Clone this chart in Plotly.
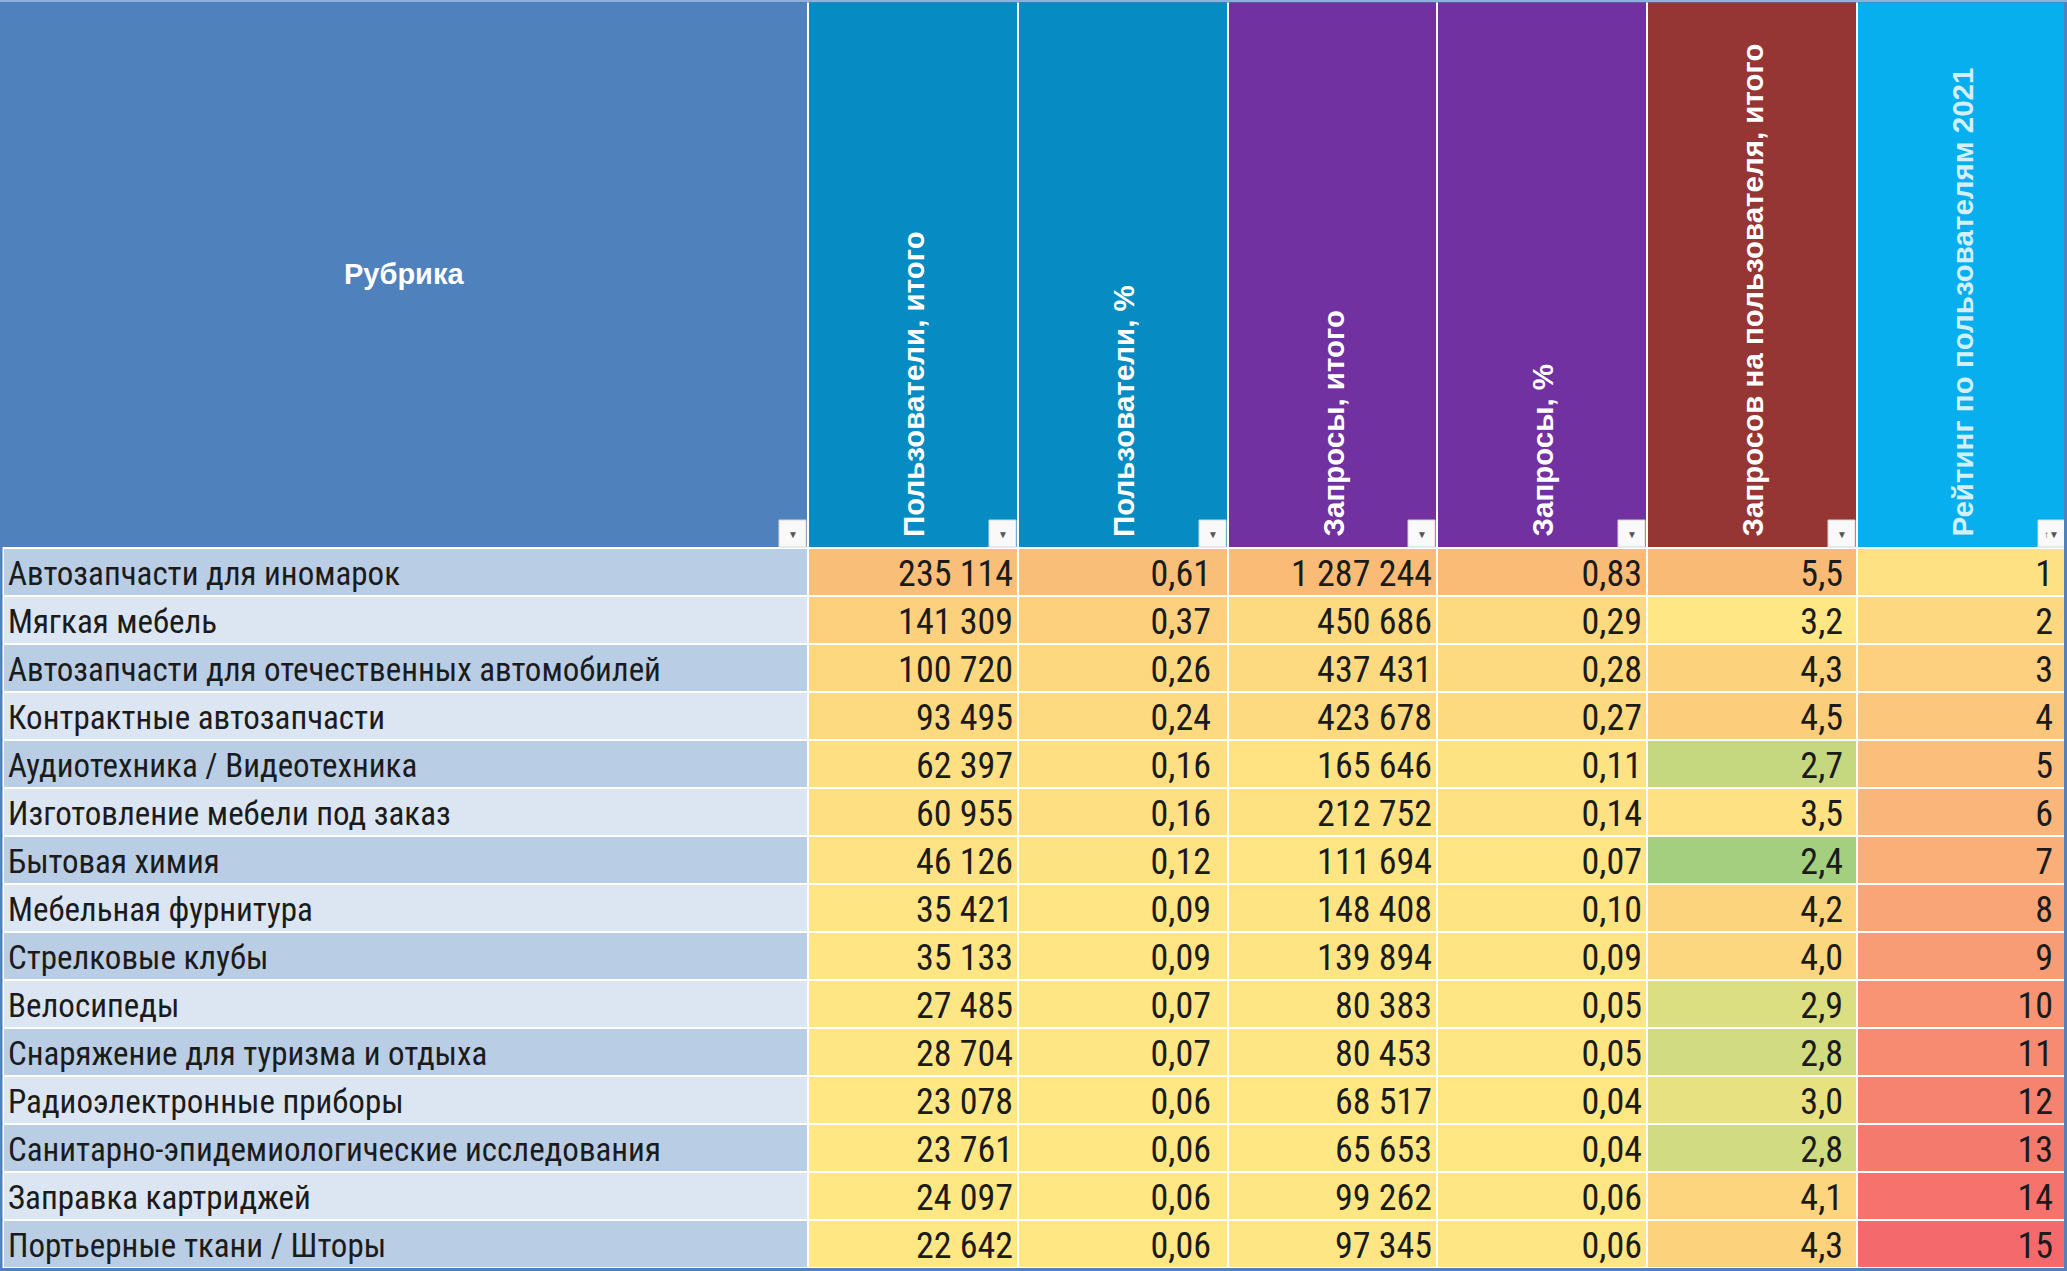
import plotly.graph_objects as go

# ---------------- data ----------------
headers = [
    "Рубрика",
    "Пользователи, итого",
    "Пользователи, %",
    "Запросы, итого",
    "Запросы, %",
    "Запросов на пользователя, итого",
    "Рейтинг по пользователям 2021",
]
rubrics = [
    "Автозапчасти для иномарок",
    "Мягкая мебель",
    "Автозапчасти для отечественных автомобилей",
    "Контрактные автозапчасти",
    "Аудиотехника / Видеотехника",
    "Изготовление мебели под заказ",
    "Бытовая химия",
    "Мебельная фурнитура",
    "Стрелковые клубы",
    "Велосипеды",
    "Снаряжение для туризма и отдыха",
    "Радиоэлектронные приборы",
    "Санитарно-эпидемиологические исследования",
    "Заправка картриджей",
    "Портьерные ткани / Шторы",
]
users_total = [235114, 141309, 100720, 93495, 62397, 60955, 46126, 35421,
               35133, 27485, 28704, 23078, 23761, 24097, 22642]
users_pct = [0.61, 0.37, 0.26, 0.24, 0.16, 0.16, 0.12, 0.09,
             0.09, 0.07, 0.07, 0.06, 0.06, 0.06, 0.06]
req_total = [1287244, 450686, 437431, 423678, 165646, 212752, 111694, 148408,
             139894, 80383, 80453, 68517, 65653, 99262, 97345]
req_pct = [0.83, 0.29, 0.28, 0.27, 0.11, 0.14, 0.07, 0.10,
           0.09, 0.05, 0.05, 0.04, 0.04, 0.06, 0.06]
req_per_user = [5.5, 3.2, 4.3, 4.5, 2.7, 3.5, 2.4, 4.2,
                4.0, 2.9, 2.8, 3.0, 2.8, 4.1, 4.3]
rating = [1, 2, 3, 4, 5, 6, 7, 8, 9, 10, 11, 12, 13, 14, 15]

# ---------------- layout / style ----------------
W, H = 2067, 1271
col_edges = [0, 808, 1018, 1228, 1437, 1647, 1857, 2067]
header_bottom = 548
row_h = 48
n = len(rubrics)
row_edges = [header_bottom + i * row_h for i in range(n + 1)]
row_mid = [(row_edges[i] + row_edges[i + 1]) / 2 for i in range(n)]
text_dy = 5

NARROW = "Liberation Sans Narrow, Arial Narrow, Roboto Condensed, DejaVu Sans Condensed, Liberation Sans, sans-serif"
BOLD = "Liberation Sans, Arial, sans-serif"
TXT = "#1B1B1B"

header_colors = ["#4F81BD", "#068CC2", "#068CC2", "#7131A1", "#7131A1", "#963634", "#07AFEE"]
header_text_colors = ["#FFFFFF"] * 6 + ["#D2F0FB"]

yellow = "#FFE784"
scales = [
    [[0, yellow], [1, "#F9BE77"]],
    [[0, yellow], [1, "#F9BE77"]],
    [[0, yellow], [1, "#F9BB76"]],
    [[0, yellow], [1, "#F9BB76"]],
    [[0, "#A3CF7E"], [0.26, "#FFE784"], [1, "#F9BA76"]],
    [[0, "#FEE182"], [1, "#F4696B"]],
]
pads = [5, 17, 5, 5, 14, 14]


def fmt_int(v):
    return f"{v:,}".replace(",", " ")


def fmt_dec(v, d):
    return f"{v:.{d}f}".replace(".", ",")


columns = [
    (users_total, [fmt_int(v) for v in users_total]),
    (users_pct, [fmt_dec(v, 2) for v in users_pct]),
    (req_total, [fmt_int(v) for v in req_total]),
    (req_pct, [fmt_dec(v, 2) for v in req_pct]),
    (req_per_user, [fmt_dec(v, 1) for v in req_per_user]),
    (rating, [str(v) for v in rating]),
]

fig = go.Figure()

# Рубрика column banding
fig.add_trace(go.Heatmap(
    x=[col_edges[0] + 3, col_edges[1]], y=row_edges,
    z=[[i % 2] for i in range(n)],
    colorscale=[[0, "#B9CDE5"], [1, "#DCE6F2"]], zmin=0, zmax=1,
    showscale=False, xgap=2, ygap=2, hoverinfo="skip",
))
fig.add_trace(go.Scatter(
    x=[col_edges[0] + 8] * n, y=[m + text_dy for m in row_mid], mode="text", text=rubrics,
    textposition="middle right",
    textfont=dict(family=NARROW, size=33, color=TXT),
    hoverinfo="skip", showlegend=False,
))

for j, (vals, labels) in enumerate(columns):
    x0, x1 = col_edges[j + 1], col_edges[j + 2]
    fig.add_trace(go.Heatmap(
        x=[x0, x1], y=row_edges, z=[[v] for v in vals],
        colorscale=scales[j], zmin=min(vals), zmax=max(vals),
        showscale=False, xgap=2, ygap=2, hoverinfo="skip",
    ))
    fig.add_trace(go.Scatter(
        x=[x1 - pads[j]] * n, y=[m + text_dy for m in row_mid], mode="text", text=labels,
        textposition="middle left",
        textfont=dict(family=NARROW, size=36, color=TXT),
        hoverinfo="skip", showlegend=False,
    ))

shapes = []
annotations = []
for j, name in enumerate(headers):
    x0, x1 = col_edges[j], col_edges[j + 1]
    shapes.append(dict(type="rect", xref="x", yref="y",
                       x0=x0 + (0 if j == 0 else 1), x1=x1 - 1, y0=0, y1=header_bottom - 1,
                       fillcolor=header_colors[j], line=dict(width=0), layer="below"))
    # filter button
    shapes.append(dict(type="rect", xref="x", yref="y",
                       x0=x1 - 29, x1=x1 - 2, y0=header_bottom - 28, y1=header_bottom - 1,
                       fillcolor="#F9F9F9", line=dict(color="#D6D6D6", width=1)))
    annotations.append(dict(
        x=x1 - 15.5, y=header_bottom - 14, xref="x", yref="y",
        text="↑▼" if j == len(headers) - 1 else "▼", showarrow=False,
        font=dict(family=BOLD, size=10 if j == len(headers) - 1 else 10, color="#555555"),
        xanchor="center", yanchor="middle",
    ))
    if j == 0:
        annotations.append(dict(
            x=(x0 + x1) / 2, y=274, xref="x", yref="y", text=name, showarrow=False,
            font=dict(family=BOLD, size=29, color=header_text_colors[j], weight="bold"),
            xanchor="center", yanchor="middle",
        ))
    else:
        annotations.append(dict(
            x=(x0 + x1) / 2, y=header_bottom - 9, xref="x", yref="y", text=name,
            showarrow=False, textangle=-90,
            font=dict(family=BOLD, size=29.5, color=header_text_colors[j], weight="bold"),
            xanchor="center", yanchor="bottom",
        ))

# outer border
shapes.append(dict(type="rect", xref="x", yref="y", x0=1, x1=W - 1.5, y0=1, y1=H - 1.5,
                   line=dict(color="#5080BE", width=3), fillcolor="rgba(0,0,0,0)"))
shapes.append(dict(type="line", xref="x", yref="y", x0=0, x1=W, y0=1, y1=1,
                   line=dict(color="#8DB0DC", width=2)))

fig.update_layout(
    width=W, height=H,
    margin=dict(l=0, r=0, t=0, b=0, pad=0),
    paper_bgcolor="#FFFFFF", plot_bgcolor="#FFFFFF",
    xaxis=dict(range=[0, W], visible=False, fixedrange=True),
    yaxis=dict(range=[H, 0], visible=False, fixedrange=True),
    shapes=shapes, annotations=annotations, showlegend=False,
)

fig.write_html(
    "out.html",
    config={"displayModeBar": False, "staticPlot": True},
    post_script="document.body.style.margin='0';document.body.style.overflow='hidden';",
)
